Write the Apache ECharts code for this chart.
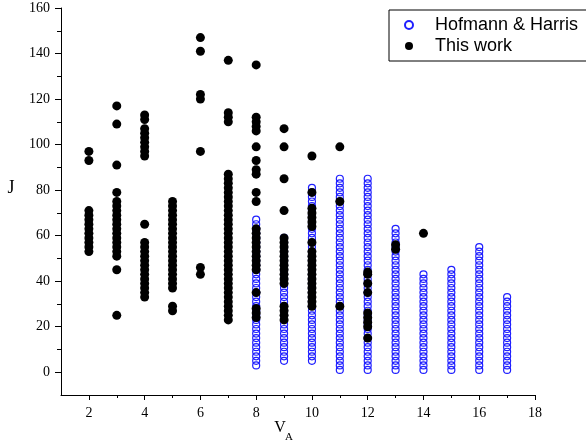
<!DOCTYPE html>
<html>
<head>
<meta charset="utf-8">
<script src="https://cdn.jsdelivr.net/npm/echarts@6/dist/echarts.min.js"></script>
<style>html,body{margin:0;padding:0;background:#fff}#c{width:586px;height:445px}</style>
</head>
<body>
<div id="c"></div>
<script>
// x ticks / labels
const xMajorTicks = [2, 4, 6, 8, 10, 12, 14, 16, 18];
const xMinorTicks = [3, 5, 7, 9, 11, 13, 15, 17];
const yMajorTicks = [0, 20, 40, 60, 80, 100, 120, 140, 160];
const yMinorTicks = [10, 30, 50, 70, 90, 110, 130, 150];

// Hofmann & Harris: V_A value and list of J values
const hofVA = [8, 9, 10, 11, 12, 13, 14, 15, 16, 17];
const hofJ8 = [3,5,7,9,11,13,15,17,19,21,23,25,27,29,31,33,35,37,39,41,43,45,47,49,51,53,55,57,59,61,63,65,67];
const hofJ9 = [5,7,9,11,13,15,17,19,21,23,25,27,29,31,33,35,37,39,41,43,45,47,49,51,53,55,57,59];
const hofJ10 = [5,7,9,11,13,15,17,19,21,23,25,27,29,31,33,35,37,39,41,43,45,47,49,51,53,55,57,59,61,63,65,67,69,71,73,75,77,79,81];
const hofJ11 = [1,3,5,7,9,11,13,15,17,19,21,23,25,27,29,31,33,35,37,39,41,43,45,47,49,51,53,55,57,59,61,63,65,67,69,71,73,75,77,79,81,83,85];
const hofJ12 = [1,3,5,7,9,11,13,15,17,19,21,23,25,27,29,31,33,35,37,39,41,43,45,47,49,51,53,55,57,59,61,63,65,67,69,71,73,75,77,79,81,83,85];
const hofJ13 = [1,3,5,7,9,11,13,15,17,19,21,23,25,27,29,31,33,35,37,39,41,43,45,47,49,51,53,55,57,59,61,63];
const hofJ14 = [1,3,5,7,9,11,13,15,17,19,21,23,25,27,29,31,33,35,37,39,41,43];
const hofJ15 = [1,3,5,7,9,11,13,15,17,19,21,23,25,27,29,31,33,35,37,39,41,43,45];
const hofJ16 = [1,3,5,7,9,11,13,15,17,19,21,23,25,27,29,31,33,35,37,39,41,43,45,47,49,51,53,55];
const hofJ17 = [1,3,5,7,9,11,13,15,17,19,21,23,25,27,29,31,33];
const hofJ = [hofJ8, hofJ9, hofJ10, hofJ11, hofJ12, hofJ13, hofJ14, hofJ15, hofJ16, hofJ17];

// This work
const twVA = [2, 3, 4, 5, 6, 7, 8, 9, 10, 11, 12, 13, 14];
const twJ2 = [53,55,57,59,61,63,65,67,69,71,93,97];
const twJ3 = [25,45,51,53,55,57,59,61,63,65,67,69,71,73,75,79,91,109,117];
const twJ4 = [33,35,37,39,41,43,45,47,49,51,53,55,57,65,95,97,99,101,103,105,107,111,113];
const twJ5 = [27,29,37,39,41,43,45,47,49,51,53,55,57,59,61,63,65,67,69,71,73,75];
const twJ6 = [43,46,97,120,122,141,147];
const twJ7 = [23,25,27,29,31,33,35,37,39,41,43,45,47,49,51,53,55,57,59,61,63,65,67,69,71,73,75,77,79,81,83,85,87,110,112,114,137];
const twJ8 = [24,26,28,35,45,47,49,51,53,55,57,59,61,63,75,79,87,89,93,99,106,108,110,112,135];
const twJ9 = [23,25,27,29,39,41,43,45,47,49,51,53,55,57,59,71,85,99,107];
const twJ10 = [29,31,33,35,37,39,41,43,45,47,49,51,53,57,64,66,68,70,72,79,95];
const twJ11 = [29,75,99];
const twJ12 = [15,20,22,24,26,35,39,43,44];
const twJ13 = [54,56];
const twJ14 = [61];
const twJ = [twJ2, twJ3, twJ4, twJ5, twJ6, twJ7, twJ8, twJ9, twJ10, twJ11, twJ12, twJ13, twJ14];

const hofData = [];
hofVA.forEach((v, i) => hofJ[i].forEach(j => hofData.push([v, j])));
const twData = [];
twVA.forEach((v, i) => twJ[i].forEach(j => twData.push([v, j])));

const serif = 'Liberation Serif';
const chart = echarts.init(document.getElementById('c'), null, {renderer: 'canvas'});
chart.setOption({
  animation: false,
  backgroundColor: '#fff',
  grid: {left: 61, right: 51, top: 8, bottom: 50, outerBoundsMode: 'none'},
  xAxis: [
    {
      type: 'value', min: 1, max: 18, position: 'bottom',
      axisLine: {onZero: false, lineStyle: {color: '#000', width: 1}},
      splitLine: {show: false},
      axisTick: {customValues: xMajorTicks, length: 5, lineStyle: {color: '#000'}},
      axisLabel: {customValues: xMajorTicks, fontFamily: serif, fontSize: 14, color: '#000', margin: 11}
    },
    {
      type: 'value', min: 1, max: 18, position: 'bottom',
      axisLine: {show: false, onZero: false},
      splitLine: {show: false},
      axisTick: {customValues: xMinorTicks, length: 3, lineStyle: {color: '#000'}},
      axisLabel: {show: false}
    }
  ],
  yAxis: [
    {
      type: 'value', min: -10, max: 160, position: 'left',
      axisLine: {show: true, onZero: false, lineStyle: {color: '#000', width: 1}},
      splitLine: {show: false},
      axisTick: {show: true, customValues: yMajorTicks, length: 6, lineStyle: {color: '#000'}},
      axisLabel: {customValues: yMajorTicks, fontFamily: serif, fontSize: 14, color: '#000', margin: 11}
    },
    {
      type: 'value', min: -10, max: 160, position: 'left',
      axisLine: {show: false, onZero: false},
      splitLine: {show: false},
      axisTick: {show: true, customValues: yMinorTicks, length: 4, lineStyle: {color: '#000'}},
      axisLabel: {show: false}
    }
  ],
  legend: {
    orient: 'vertical', left: 389, top: 10,
    padding: [6, 60, 6, 15],
    itemWidth: 10, itemHeight: 8, itemGap: 3,
    borderColor: '#000', borderWidth: 1, borderRadius: 0, backgroundColor: '#fff',
    textStyle: {fontFamily: 'Liberation Sans', fontSize: 18, color: '#000', lineHeight: 18, padding: [0, 0, 0, 16]},
    data: ['Hofmann & Harris', 'This work']
  },
  graphic: [
    {type: 'text', x: 11, y: 188, style: {text: 'J', fontFamily: serif, fontSize: 18, fill: '#000', align: 'center', verticalAlign: 'middle'}},
    {type: 'text', x: 280, y: 428, style: {text: 'V', fontFamily: serif, fontSize: 16, fill: '#000', align: 'center', verticalAlign: 'middle'}},
    {type: 'text', x: 289, y: 437, style: {text: 'A', fontFamily: serif, fontSize: 11, fill: '#000', align: 'center', verticalAlign: 'middle'}}
  ],
  series: [
    {
      name: 'Hofmann & Harris', type: 'scatter', xAxisIndex: 0, yAxisIndex: 0,
      symbol: 'circle', symbolSize: 7,
      itemStyle: {color: 'rgba(255,255,255,0)', borderColor: '#1f1fff', borderWidth: 1.2, opacity: 1},
      data: hofData, z: 2
    },
    {
      name: 'This work', type: 'scatter', xAxisIndex: 0, yAxisIndex: 0,
      symbol: 'circle', symbolSize: 9,
      itemStyle: {color: '#000', opacity: 1},
      data: twData, z: 3
    }
  ]
});
</script>
</body>
</html>
